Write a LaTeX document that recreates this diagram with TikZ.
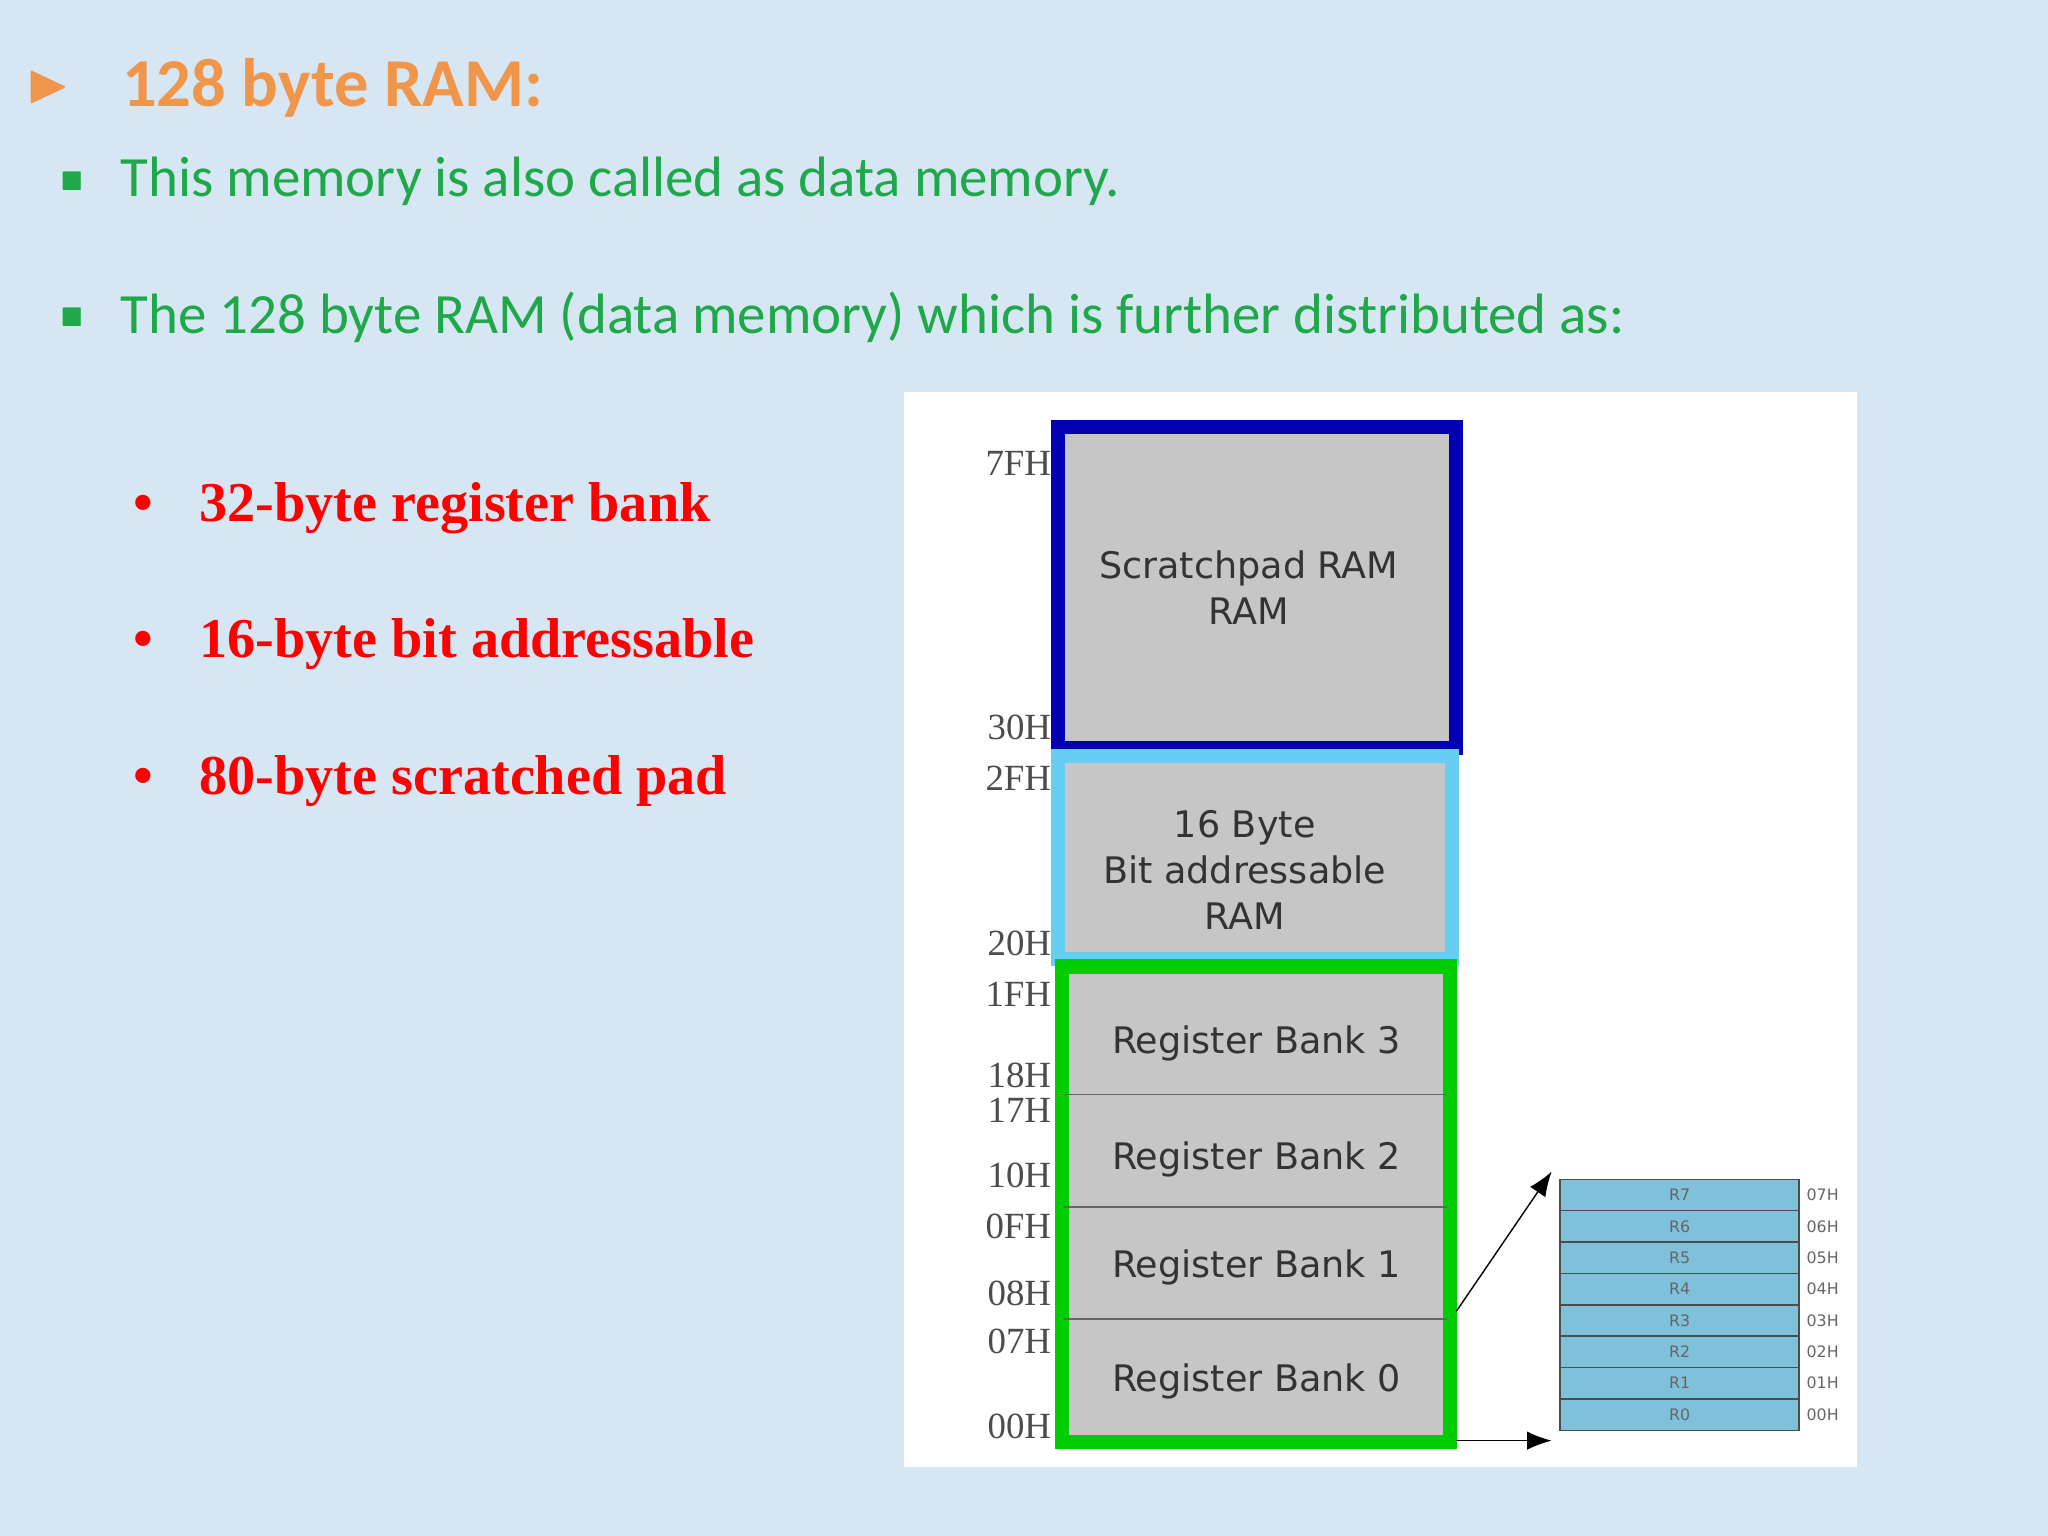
\documentclass[tikz,border=0pt]{standalone}
\usepackage{amssymb}
\usepackage{fontspec}
\setmainfont{Liberation Serif}
\newfontfamily\calib{Carlito}
\newfontfamily\verd{DejaVu Sans}
\usetikzlibrary{arrows.meta}
\definecolor{slideBg}{HTML}{D6E6F2}
\definecolor{titreOr}{HTML}{F0964A}
\definecolor{texteVert}{HTML}{1FA84A}
\definecolor{bloc}{HTML}{C6C6C6}
\definecolor{cellule}{HTML}{7FC0DA}
\begin{document}
\begin{tikzpicture}[x=0.013061cm,y=-0.013061cm]
	% Styles
	\tikzstyle{zone}=[fill=bloc,line width=4pt]
	\tikzstyle{adresse}=[anchor=east,font=\fontsize{10.5}{10.5}\selectfont,text=black!70,inner sep=1pt]
	\tikzstyle{puce}=[anchor=west,font=\calib\fontsize{16.2}{16.2}\selectfont,text=texteVert,inner sep=0pt]
	\tikzstyle{rouge}=[anchor=west,font=\bfseries\fontsize{16}{16}\selectfont,text=red,inner sep=0pt]
	\tikzstyle{boite}=[font=\verd\fontsize{10.4}{13}\selectfont,text=black!80,align=center]
	\tikzstyle{reg}=[draw=black!70,fill=cellule,minimum width=183*0.013061cm,minimum height=24*0.013061cm,inner sep=0pt,font=\verd\fontsize{4.5}{4.5}\selectfont,text=black!60]
	% Fond
	\fill[slideBg] (0,0) rectangle (1568,1176);
	\useasboundingbox (0,0) rectangle (1568,1176);
	% Textes
	\node[anchor=west,text=titreOr,font=\fontsize{16}{16}\selectfont,inner sep=0pt] (fleche) at (20,67) {$\blacktriangleright$};
	\node[anchor=west,text=titreOr,font=\calib\bfseries\fontsize{19.5}{19.5}\selectfont,inner sep=0pt] (titre) at (93,67) {128 byte RAM:};
	\node[anchor=west,text=texteVert,font=\fontsize{7}{7}\selectfont,inner sep=0pt] (p1) at (46,139) {$\blacksquare$};
	\node[puce] (t1) at (92,139) {This memory is also called as data memory.};
	\node[anchor=west,text=texteVert,font=\fontsize{7}{7}\selectfont,inner sep=0pt] (p2) at (46,243) {$\blacksquare$};
	\node[puce] (t2) at (92,243) {The 128 byte RAM (data memory) which is further distributed as:};
	\node[rouge] (r1) at (102,389) {\textbullet\hspace{13pt}32-byte register bank};
	\node[rouge] (r2) at (102,493) {\textbullet\hspace{13pt}16-byte bit addressable};
	\node[rouge] (r3) at (102,598) {\textbullet\hspace{13pt}80-byte scratched pad};
	% Figure
	\fill[white] (692,300) rectangle (1422,1123);
	\draw[zone,draw=blue!70!black] (810,327) rectangle (1115,573);
	\draw[zone,draw=cyan!60] (810,579) rectangle (1112,734);
	\draw[zone,draw=green!80!black] (813,740) rectangle (1110,1104);
	\draw[black!60,thin] (815,838) -- (1108,838) (815,924) -- (1108,924) (815,1010) -- (1108,1010);
	\node[boite] (scratch) at (956,450) {Scratchpad RAM\\RAM};
	\node[boite] (bitadr) at (953,666) {16 Byte\\Bit addressable\\RAM};
	\foreach \n/\y in {3/799,2/888,1/970,0/1058}
		\node[boite] (rb\n) at (962,\y) {Register Bank \n};
	\foreach \t/\y in {7FH/355,30H/557,2FH/596,20H/722,1FH/761,18H/823,17H/850,10H/900,0FH/939,08H/990,07H/1027,00H/1092}
		\node[adresse] at (808,\y) {\t};
	% Registres
	\foreach \i in {0,...,7}{
		\pgfmathtruncatemacro{\yy}{1083-24*\i}
		\node[reg] (R\i) at (1286,\yy) {R\i};
		\node[anchor=west,font=\verd\fontsize{4.5}{4.5}\selectfont,text=black!60,inner sep=1pt] at (1380,\yy) {0\i H};
	}
	\coordinate (c1) at (1115,1004);
	\coordinate (c0) at (1115,1103);
	\draw[-{Latex[length=7pt]},thin] (c1) -- (1188,897);
	\draw[-{Latex[length=7pt]},thin] (c0) -- (1188,1103);
\end{tikzpicture}
\end{document}
